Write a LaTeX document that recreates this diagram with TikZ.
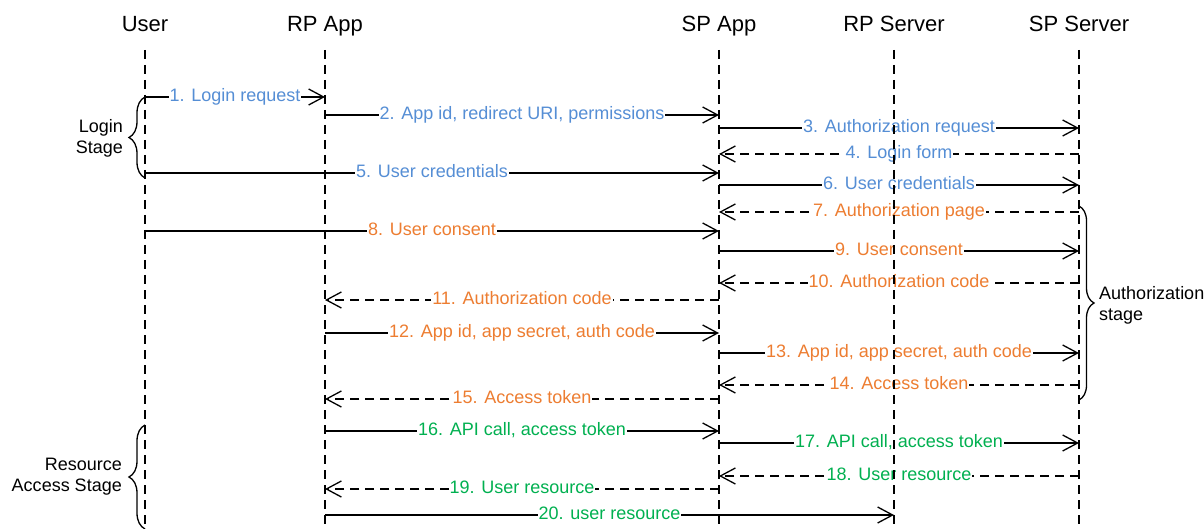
\documentclass[tikz,border=0pt]{standalone}
\usepackage{fontspec}
\setmainfont{Liberation Sans}
\usetikzlibrary{arrows.meta,decorations.pathreplacing}
\definecolor{cblue}{HTML}{558ED5}
\definecolor{corange}{HTML}{ED7D31}
\definecolor{cgreen}{HTML}{00B050}
\newcommand\msgrow[7]{%
  \coordinate (r#1) at (0,#4);
  \draw[#5] (#2 |- r#1) -- node[lbl,text=#6] (m#1) {#7} (#3 |- r#1);}
\begin{document}
\begin{tikzpicture}[x=1pt,y=-1pt,
  head/.style={font=\fontsize{22}{24}\selectfont, anchor=base, inner sep=0pt},
  lifeline/.style={line width=1.3pt, dash pattern=on 9pt off 6pt},
  msgline/.style={line width=1.3pt, -{Straight Barb[length=15pt,width=16pt,line width=1.3pt]}},
  reply/.style={msgline, dash pattern=on 9pt off 6pt},
  lbl/.style={fill=white, inner sep=1pt, font=\fontsize{18}{20}\selectfont, text height=13pt, text depth=3.5pt},
  stagelbl/.style={font=\fontsize{18}{21}\selectfont, inner sep=0pt},
  stagebrace/.style={line width=1.3pt, decorate}
]
\useasboundingbox (0,0) rectangle (1204,529);
% heads
\node[head] (user) at (145,32) {User};
\node[head] (rpapp) at (325,32) {RP App};
\node[head] (spapp) at (719,32) {SP App};
\node[head] (rpsrv) at (894,32) {RP Server};
\node[head] (spsrv) at (1079,32) {SP Server};
\coordinate (top) at (0,50);
\coordinate (bot) at (0,529);
% messages
\msgrow{1}{user}{rpapp}{97}{msgline}{cblue}{1. Login request}
\msgrow{2}{rpapp}{spapp}{115}{msgline}{cblue}{2. App id, redirect URI, permissions}
\msgrow{3}{spapp}{spsrv}{128}{msgline}{cblue}{3. Authorization request}
\msgrow{4}{spsrv}{spapp}{154}{reply}{cblue}{4. Login form}
\msgrow{5}{user}{spapp}{173}{msgline}{cblue}{5. User credentials}
\msgrow{6}{spapp}{spsrv}{185}{msgline}{cblue}{6. User credentials}
\msgrow{7}{spsrv}{spapp}{212}{reply}{corange}{7. Authorization page}
\msgrow{8}{user}{spapp}{231}{msgline}{corange}{8. User consent}
\msgrow{9}{spapp}{spsrv}{251}{msgline}{corange}{9. User consent}
\msgrow{10}{spsrv}{spapp}{283}{reply}{corange}{10. Authorization code}
\msgrow{11}{spapp}{rpapp}{300}{reply}{corange}{11. Authorization code}
\msgrow{12}{rpapp}{spapp}{333}{msgline}{corange}{12. App id, app secret, auth code}
\msgrow{13}{spapp}{spsrv}{353}{msgline}{corange}{13. App id, app secret, auth code}
\msgrow{14}{spsrv}{spapp}{385}{reply}{corange}{14. Access token}
\msgrow{15}{spapp}{rpapp}{399}{reply}{corange}{15. Access token}
\msgrow{16}{rpapp}{spapp}{431}{msgline}{cgreen}{16. API call, access token}
\msgrow{17}{spapp}{spsrv}{443}{msgline}{cgreen}{17. API call, access token}
\msgrow{18}{spsrv}{spapp}{476}{reply}{cgreen}{18. User resource}
\msgrow{19}{spapp}{rpapp}{489}{reply}{cgreen}{19. User resource}
\msgrow{20}{rpapp}{rpsrv}{515}{msgline}{cgreen}{20. user resource}
% lifelines
\foreach \n in {user,rpapp,spapp,rpsrv,spsrv}
  \draw[lifeline] (\n |- top) -- (\n |- bot);
% stage braces
\coordinate (b1a) at (0,97); \coordinate (b1b) at (0,178);
\coordinate (b2a) at (0,206); \coordinate (b2b) at (0,400);
\coordinate (b3a) at (0,425); \coordinate (b3b) at (0,529);
\draw[stagebrace, decoration={brace, mirror, amplitude=16pt}] (user |- b1a) -- (user |- b1b);
\draw[stagebrace, decoration={brace, amplitude=15pt}] (spsrv |- b2a) -- (spsrv |- b2b);
\draw[stagebrace, decoration={brace, mirror, amplitude=16pt}] (user |- b3a) -- (user |- b3b);
\node[stagelbl, align=right, anchor=east] (login) at (123,138) {Login\\Stage};
\node[stagelbl, align=left, anchor=west] (auth) at (1099,305) {Authorization\\stage};
\node[stagelbl, align=right, anchor=east] (res) at (122,477) {Resource\\Access Stage};
\end{tikzpicture}
\end{document}
